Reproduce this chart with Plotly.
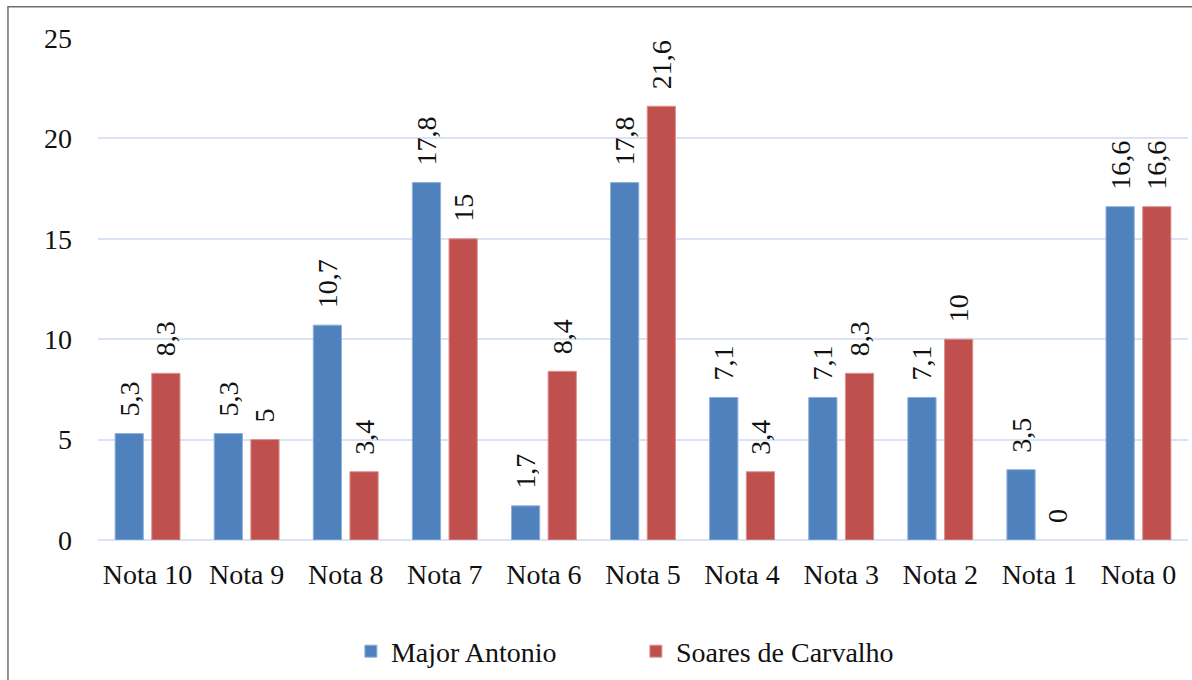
import plotly.graph_objects as go

categories = ["Nota 10", "Nota 9", "Nota 8", "Nota 7", "Nota 6", "Nota 5",
              "Nota 4", "Nota 3", "Nota 2", "Nota 1", "Nota 0"]
major_antonio = [5.3, 5.3, 10.7, 17.8, 1.7, 17.8, 7.1, 7.1, 7.1, 3.5, 16.6]
soares_carvalho = [8.3, 5, 3.4, 15, 8.4, 21.6, 3.4, 8.3, 10, 0, 16.6]
y_ticks = [0, 5, 10, 15, 20, 25]

FONT = "Liberation Serif"
PAD = "\u00a0\u00a0"


def labels(vals):
    return [PAD + (f"{v:g}".replace(".", ",")) for v in vals]


def outline(vals):
    return [1 if v > 0 else 0 for v in vals]


fig = go.Figure()
fig.add_trace(go.Bar(
    name="Major Antonio", x=categories, y=major_antonio,
    text=labels(major_antonio), textposition="outside", textangle=-90,
    constraintext="none",
    textfont=dict(family=FONT, size=28, color="#111111"),
    marker=dict(color="#4f81bd", line=dict(color="#8fb0dc", width=outline(major_antonio))),
    cliponaxis=False,
))
fig.add_trace(go.Bar(
    name="Soares de Carvalho", x=categories, y=soares_carvalho,
    text=labels(soares_carvalho), textposition="outside", textangle=-90,
    constraintext="none",
    textfont=dict(family=FONT, size=28, color="#111111"),
    marker=dict(color="#c0504d", line=dict(color="#dc9290", width=outline(soares_carvalho))),
    cliponaxis=False,
))

fig.update_layout(
    width=1192, height=680,
    margin=dict(l=98, r=4, t=38, b=138),
    paper_bgcolor="white", plot_bgcolor="white",
    barmode="group", bargap=0.26, bargroupgap=0.23,
    font=dict(family=FONT, size=28, color="#111111"),
    showlegend=True,
    legend=dict(orientation="h", x=0.232, xanchor="left", y=-0.222, yanchor="middle",
                font=dict(family=FONT, size=28, color="#111111"),
                itemwidth=30, entrywidth=240, traceorder="normal"),
    shapes=[dict(type="rect", xref="paper", yref="paper",
                 x0=-0.0826, x1=1.2, y0=-0.5, y1=1.0625,
                 line=dict(color="#707070", width=1.5), fillcolor="rgba(0,0,0,0)",
                 layer="below")],
)
fig.update_xaxes(showgrid=False, showline=False, ticks="", ticklabelstandoff=15,
                 tickfont=dict(family=FONT, size=28, color="#111111"))
fig.update_yaxes(range=[0, 25], tickvals=y_ticks, showgrid=True, gridcolor="#d9e3f3",
                 gridwidth=1.5, zeroline=True, zerolinecolor="#d9e3f3", zerolinewidth=1.5,
                 showline=False, ticks="", ticklabelstandoff=25,
                 tickfont=dict(family=FONT, size=28, color="#111111"))

fig.write_html("out.html")
